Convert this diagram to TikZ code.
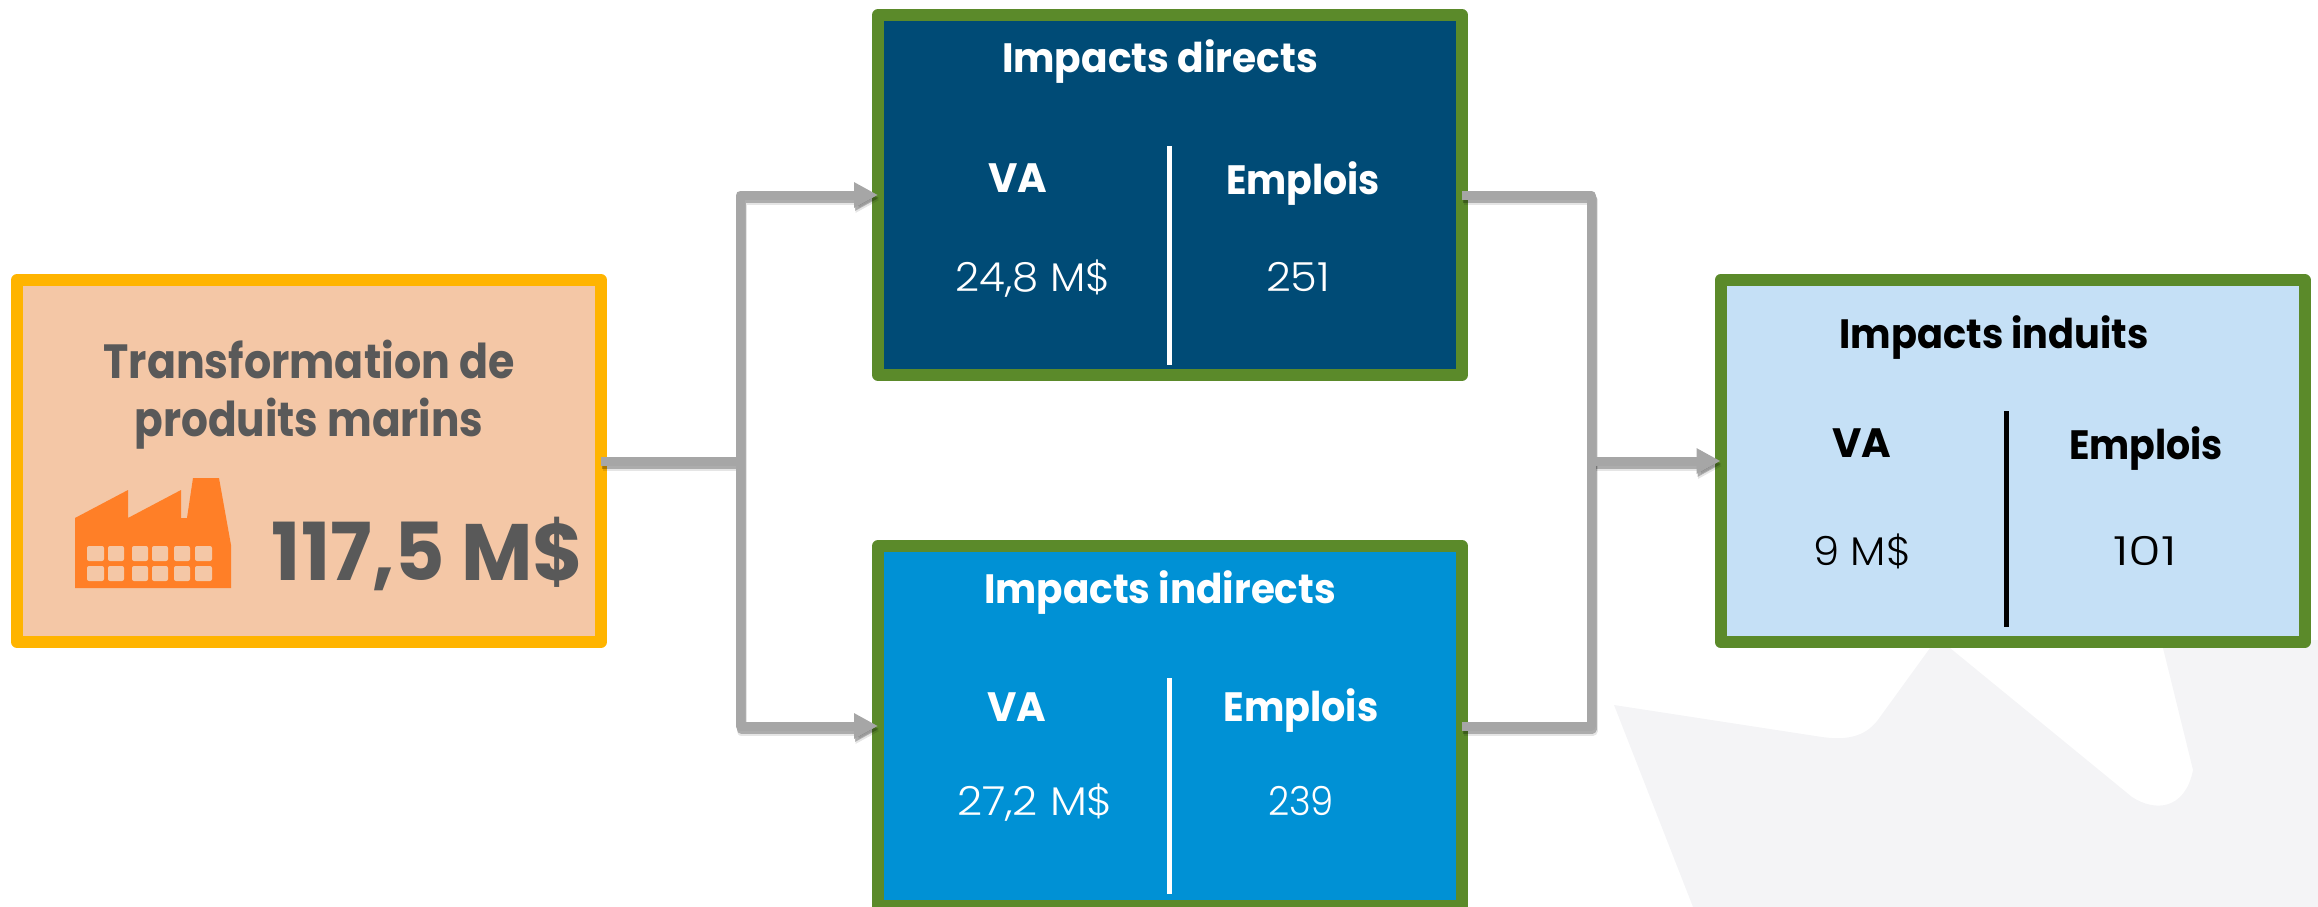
\documentclass[tikz,border=0pt]{standalone}
\usepackage{fontspec}
\usepackage{graphicx}
\setmainfont{Poppins}
\newfontfamily\lightfont{Poppins Light}
\usetikzlibrary{arrows.meta}
\definecolor{grn}{HTML}{5B8A2A}
\definecolor{amber}{HTML}{FFB400}
\definecolor{peach}{HTML}{F4C7A6}
\definecolor{orng}{HTML}{FF7F27}
\definecolor{navy}{HTML}{004B76}
\definecolor{azure}{HTML}{0091D5}
\definecolor{pale}{HTML}{C5E0F6}
\definecolor{txtgray}{HTML}{595959}
\definecolor{conn}{HTML}{A6A6A6}
\definecolor{leaf}{HTML}{F4F4F6}
\newcommand{\fitw}[2]{\resizebox{#1pt}{\height}{#2}}
\tikzset{
  panel/.style={draw=grn,line width=12pt,outer sep=0pt,inner sep=0pt,line join=round,minimum width=584pt,minimum height=360pt},
  head/.style={anchor=base,inner sep=0pt,font=\fontsize{41}{41}\selectfont\bfseries},
  val/.style={anchor=base,inner sep=0pt,font=\fontsize{40}{40}\selectfont\lightfont},
  srctxt/.style={anchor=base,inner sep=0pt,text=txtgray,font=\fontsize{48}{48}\selectfont\bfseries},
  wire/.style={draw=conn,line width=9pt,line join=round},
  wireshadowA/.style={draw=black,opacity=.10,line width=10pt,line join=round,transform canvas={xshift=1.5pt,yshift=-5pt}},
  wireshadowB/.style={draw=black,opacity=.25,line width=9pt,line join=round,transform canvas={xshift=1pt,yshift=-3pt}},
  win/.style={fill=peach,rounded corners=2pt},
  sep/.style={line width=5pt}
}
\begin{document}
\begin{tikzpicture}[x=1pt,y=-1pt]
\useasboundingbox (0,0) rectangle (2318,907);
\clip (0,0) rectangle (2318,907);
% background leaf
\fill[leaf] (1614,705) -- (1822,737) .. controls (1850,741) and (1868,735) .. (1880,717) -- (1930,648) -- (1940,630) -- (1950,648) -- (2132,797) .. controls (2155,812) and (2185,810) .. (2193,770) -- (2161,640) -- (2318,640) -- (2318,907) -- (1693,907) -- cycle;
% panels
\node[panel,draw=amber,fill=peach,minimum height=362pt] (src) at (309,461) {};
\node[panel,fill=navy] (direct) at (1170,195) {};
\node[panel,fill=azure] (indirect) at (1170,726) {};
\node[panel,fill=pale,minimum height=362pt] (induced) at (2012.5,461) {};
\coordinate (jl) at (740,461);
\coordinate (jr) at (1591,461);
% connectors with their soft shadows
\foreach \sty in {wireshadowA,wireshadowB,wire}{
  \draw[\sty] (src.east) -- (jl);
  \draw[\sty,-{Triangle[length=24pt,width=24pt]}] (jl) |- (direct.west);
  \draw[\sty,-{Triangle[length=24pt,width=24pt]}] (jl) |- (indirect.west);
  \draw[\sty] (direct.east) -| (jr);
  \draw[\sty] (indirect.east) -| (jr);
  \draw[\sty,-{Triangle[length=24pt,width=24pt]}] (jr) -- (induced.west);
}
% source panel
\node[srctxt] (srcA) at (309,378) {\fitw{411}{Transformation de}};
\node[srctxt] (srcB) at (309,436) {\fitw{349}{produits marins}};
\fill[orng] (75,518) -- (128,490) -- (128,518) -- (181,490) -- (181,518) -- (187,518) -- (193,478) -- (219,478) -- (231,545) -- (231,588) -- (75,588) -- cycle;
\foreach \xa/\xb in {87/104,108/124,132/148,152/168,174/190,195/212}{
  \fill[win] (\xa,546) rectangle (\xb,561);
  \fill[win] (\xa,566) rectangle (\xb,581);
}
\node[srctxt,font=\fontsize{80}{80}\selectfont\bfseries] (amount) at (428,580) {\fitw{312}{117,5 M\$}};
% direct
\node[head,text=white] (dT) at (1160,73) {\fitw{316}{Impacts directs}};
\node[head,text=white] (dV) at (1018,192) {\fitw{59}{VA}};
\node[head,text=white] (dE) at (1303,194) {\fitw{154}{Emplois}};
\node[val,text=white] (dA) at (1033,291) {\fitw{155}{24,8 M\$}};
\node[val,text=white] (dB) at (1298,291) {\fitw{64}{251}};
\draw[sep,white] (1169,146) -- (1169,365);
% indirect
\node[head,text=white] (iT) at (1160,603) {\fitw{352}{Impacts indirects}};
\node[head,text=white] (iV) at (1017,721) {\fitw{59}{VA}};
\node[head,text=white] (iE) at (1301,721) {\fitw{155}{Emplois}};
\node[val,text=white] (iA) at (1035,815) {\fitw{156}{27,2 M\$}};
\node[val,text=white] (iB) at (1301,815) {\fitw{66}{239}};
\draw[sep,white] (1169,678) -- (1169,894);
% induced
\node[head,text=black] (nT) at (1994,348) {\fitw{309}{Impacts induits}};
\node[head,text=black] (nV) at (1862,457) {\fitw{59}{VA}};
\node[head,text=black] (nE) at (2146,459) {\fitw{154}{Emplois}};
\node[val,text=black] (nA) at (1862,565) {\fitw{98}{9 M\$}};
\node[val,text=black] (nB) at (2145,565) {\fitw{64}{101}};
\draw[sep,black] (2006,411) -- (2006,627);
\end{tikzpicture}
\end{document}
